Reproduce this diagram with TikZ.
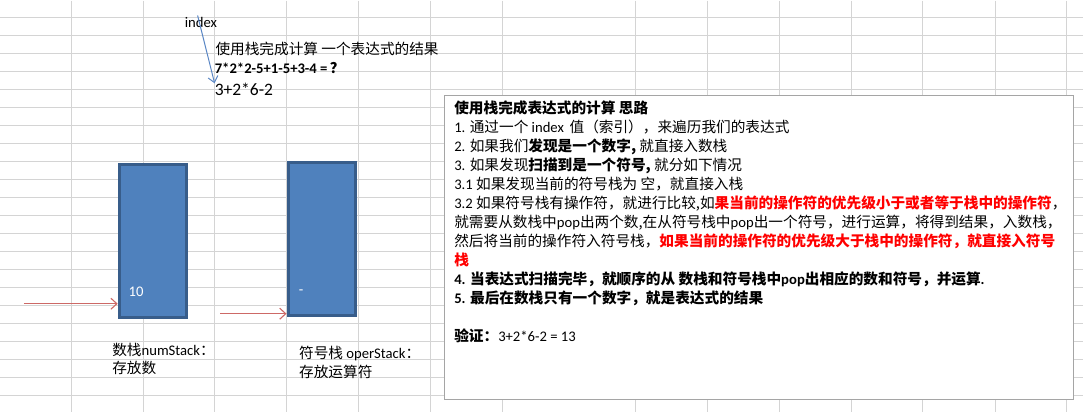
\documentclass[tikz,border=0pt]{standalone}
\usepackage{fontspec}
\setmainfont{Noto Sans CJK SC}
\newfontfamily\calibri{Carlito}
\usetikzlibrary{arrows.meta,positioning}
\definecolor{cellLine}{RGB}{212,212,212}
\definecolor{stackFill}{RGB}{79,129,189}
\definecolor{stackEdge}{RGB}{56,93,138}
\definecolor{pushRed}{RGB}{205,105,102}
\definecolor{idxBlue}{RGB}{91,135,197}
\definecolor{noteEdge}{RGB}{165,165,165}
\newcommand\latn[1]{{\calibri #1}}
\newcommand\hotred[1]{{\color{red}\bfseries #1}}

\begin{document}
\begin{tikzpicture}[x=1pt, y=-1pt,
    txt/.style={inner sep=0pt, font=\fontsize{14.67}{19}\selectfont},
    stack/.style={rectangle, draw=stackEdge, fill=stackFill, line width=3pt,
                  minimum width=67.4pt, minimum height=153pt},
    notebox/.style={rectangle, draw=noteEdge, fill=white, line width=1pt,
                    minimum width=629.7pt, minimum height=303.5pt},
    push/.style={-{Straight Barb[length=6pt,width=11pt]}, pushRed, line width=1.1pt},
    idxptr/.style={-{Straight Barb[length=6pt,width=10pt]}, idxBlue, line width=1pt}
  ]
  % sheet background
  \fill[white] (0,0) rectangle (1083,412);
  \foreach \gx in {70.7,142.7,214.5,286.7,358.7,430.7,502.3,635.7,707.7,779.3,851.7,923.3,995.5,1067.3}
    \draw[cellLine, line width=1pt] (\gx,0) -- (\gx,412);
  \foreach \k in {0,...,21}
    \draw[cellLine, line width=1pt] (0,17.3+18*\k) -- (1083,17.3+18*\k);
  \useasboundingbox (0,0) rectangle (1083,412);

  % task and index pointer
  \node[txt, anchor=base west] (idxlabel) at (184.3,26.7) {\latn{index}};
  \node[txt, anchor=base west] (task) at (215,53.8) {使用栈完成计算 一个表达式的结果};
  \node[txt, anchor=base west] (sample) at (214.3,72.7)
    {\bfseries\latn{7*2*2-5+1-5+3-4 =}\,？};
  \node[inner sep=0pt, anchor=base west, font=\calibri\fontsize{17.5}{19}\selectfont]
    (expr) at (214.3,95.5) {3+2*6-2};
  \coordinate (idxfrom) at (197.3,15);
  \draw[idxptr] (idxfrom) -- (expr.north west);

  % the two stacks
  \node[stack] (numstack)  at (152.5,240.3) {};
  \node[stack] (operstack) at (321.5,238.5) {};
  \node[txt, white, anchor=base west] (numtop)  at (128,296.5) {\latn{10}};
  \node[txt, white, anchor=base west] (opertop) at (298.5,294.5) {\latn{-}};

  \coordinate (numfeed)  at (23.3,303.5);
  \coordinate (operfeed) at (220,313.5);
  \draw[push] (numfeed)  -- (numfeed -| numstack.west);
  \draw[push] (operfeed) -- (operfeed -| operstack.west);

  \node[txt, anchor=north west, align=left, font=\fontsize{14.67}{18.4}\selectfont]
    (numlabel) at (111.7,342.7) {数栈\latn{numStack}：\\存放数};
  \node[txt, anchor=north west, align=left, font=\fontsize{14.67}{18.4}\selectfont]
    (operlabel) at (298.7,346) {符号栈 \latn{operStack}：\\存放运算符};

  % explanation box
  \node[notebox, anchor=north west] (note) at (443.8,95) {};
  \node[txt, anchor=north west, align=left] (steps) at (454,100) {%
    \textbf{使用栈完成表达式的计算 思路}\\
    \latn{1.} 通过一个 \latn{index}\, 值（索引），来遍历我们的表达式\\
    \latn{2.} 如果我们\textbf{发现是一个数字,} 就直接入数栈\\
    \latn{3.} 如果发现\textbf{扫描到是一个符号,} 就分如下情况\\
    \latn{3.1} 如果发现当前的符号栈为 空，就直接入栈\\
    \latn{3.2} 如果符号栈有操作符，就进行比较,如\hotred{果当前的操作符的优先级小于或者等于栈中的操作符}，\\
    就需要从数栈中\latn{pop}出两个数,在从符号栈中\latn{pop}出一个符号，进行运算，将得到结果，入数栈，\\
    然后将当前的操作符入符号栈，\hotred{如果当前的操作符的优先级大于栈中的操作符，就直接入符号}\\
    \hotred{栈}\\
    \textbf{\latn{4.} 当表达式扫描完毕，就顺序的从 数栈和符号栈中\latn{pop}出相应的数和符号，并运算\latn{.}}\\
    {\bfseries\latn{5.} 最后在数栈只有一个数字，就是表达式的结果}\\[19pt]
    \textbf{验证：}\latn{3+2*6-2 = 13}};
\end{tikzpicture}
\end{document}
